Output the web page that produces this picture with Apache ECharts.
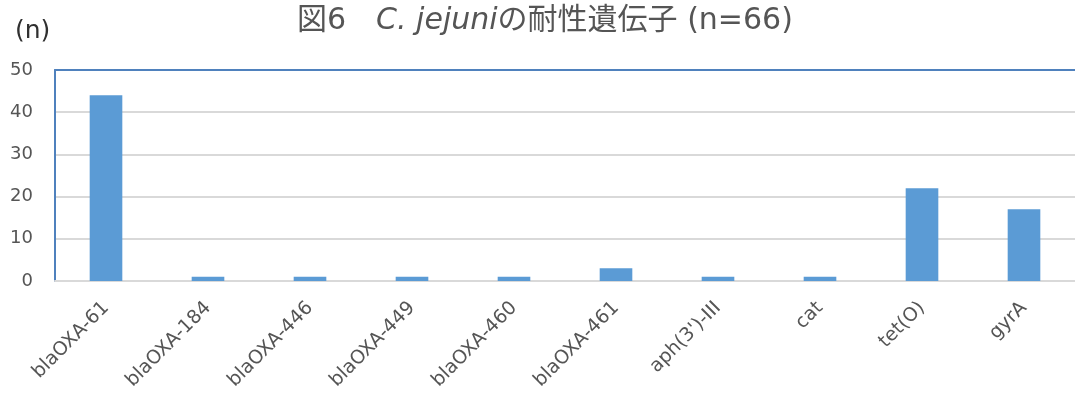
<!DOCTYPE html>
<html>
<head>
<meta charset="utf-8">
<script src="https://cdn.jsdelivr.net/npm/echarts@6/dist/echarts.min.js"></script>
<style>
  html, body { margin: 0; padding: 0; background: #fff; }
  #chart { width: 1075px; height: 396px; }
</style>
</head>
<body>
<div id="chart"></div>
<script>
// Resistance genes detected in C. jejuni isolates (n=66)
const genes = ['blaOXA-61', 'blaOXA-184', 'blaOXA-446', 'blaOXA-449', 'blaOXA-460',
               'blaOXA-461', "aph(3')-III", 'cat', 'tet(O)', 'gyrA'];
const counts = [44, 1, 1, 1, 1, 3, 1, 1, 22, 17];
const yTicks = [0, 10, 20, 30, 40, 50];

const FONT = '"DejaVu Sans", "Noto Sans CJK JP", sans-serif';
const TEXT = '#555555';

const chart = echarts.init(document.getElementById('chart'), null, { renderer: 'canvas' });

chart.setOption({
  animation: false,
  backgroundColor: '#ffffff',
  title: [
    {
      text: '{a|図6　}{i|C. jejuni}{a|の耐性遺伝子 (n=66)}',
      left: 292,
      top: 1,
      textStyle: {
        rich: {
          a: { fontFamily: FONT, fontSize: 30, color: TEXT, fontWeight: 'normal' },
          i: { fontFamily: FONT, fontSize: 30, color: TEXT, fontWeight: 'normal', fontStyle: 'italic' }
        }
      }
    },
    {
      text: '(n)',
      left: 10,
      top: 14,
      textStyle: { fontFamily: FONT, fontSize: 25, color: '#303030', fontWeight: 'normal' }
    }
  ],
  grid: { left: 55, right: -10, top: 70, bottom: 115, containLabel: false },
  xAxis: [
    {
      type: 'category',
      data: genes,
      axisLine: { show: true, lineStyle: { color: '#D9D9D9', width: 2 } },
      axisTick: { show: false },
      axisLabel: {
        rotate: 45,
        margin: 24,
        interval: 0,
        fontFamily: FONT,
        fontSize: 19,
        color: TEXT
      }
    },
    {
      type: 'category',
      data: genes,
      position: 'top',
      axisLine: { show: true, lineStyle: { color: '#4F81BD', width: 2 } },
      axisTick: { show: false },
      axisLabel: { show: false }
    }
  ],
  yAxis: {
    type: 'value',
    min: 0,
    max: 50,
    interval: 10,
    axisLine: { show: true, lineStyle: { color: '#4F81BD', width: 2 } },
    axisTick: { show: false },
    splitLine: { show: true, lineStyle: { color: '#D9D9D9', width: 2 } },
    axisLabel: {
      margin: 22,
      fontFamily: FONT,
      fontSize: 18,
      color: TEXT,
      formatter: v => yTicks.includes(v) ? String(v) : ''
    }
  },
  series: [
    {
      type: 'bar',
      data: counts,
      barWidth: '32%',
      itemStyle: { color: '#5B9BD5' }
    }
  ]
});
</script>
</body>
</html>
